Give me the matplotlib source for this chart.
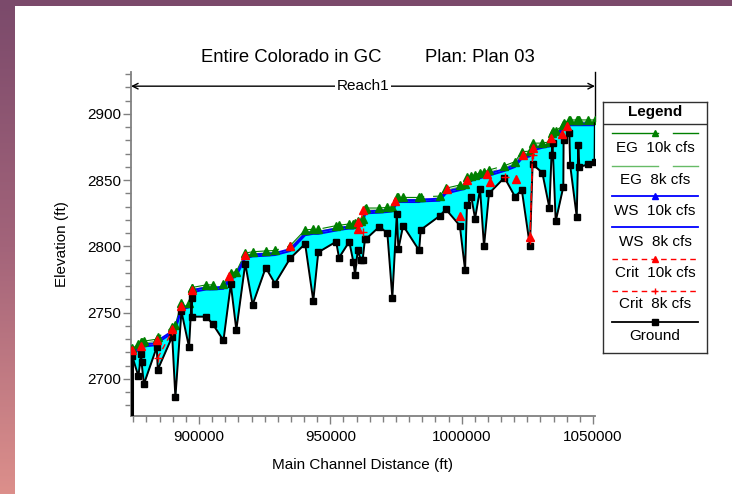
import numpy as np
import matplotlib.pyplot as plt
from matplotlib.ticker import MultipleLocator, FuncFormatter
from matplotlib.patches import Rectangle
from matplotlib.colors import LinearSegmentedColormap

plt.rcParams['font.family'] = ['Liberation Sans', 'DejaVu Sans']

# main channel distance (ft) of the cross sections
station = [874600, 876900, 878000, 878100, 879000, 883900, 884300, 889800, 891000, 893300,
           896200, 897200, 897300, 902700, 905200, 909300, 912100, 914200, 917600, 920400,
           925400, 928900, 934700, 940400, 943500, 945400, 952200, 953300, 957200, 958800,
           959400, 960400, 961600, 962300, 963200, 963500, 968700, 971700, 973600, 975300,
           975900, 977700, 983800, 984400, 991600, 994000, 999300, 1001300, 1002000, 1003700,
           1005100, 1007000, 1008500, 1010400, 1016300, 1020300, 1022900, 1026000, 1027000, 1030700,
           1033400, 1034200, 1034600, 1035800, 1038700, 1038800, 1041000, 1041300, 1043800, 1044400,
           1044800, 1048200, 1050600, 1050700]
ground = [2717, 2702, 2719, 2713, 2696, 2724, 2707, 2732, 2686, 2751,
          2724, 2761, 2747, 2747, 2741.5, 2729, 2771.5, 2737, 2787, 2756,
          2784, 2772, 2791, 2802, 2759, 2795.6, 2803.6, 2791.5, 2803.6, 2788,
          2778.5, 2797, 2790, 2790, 2806, 2805.5, 2815, 2810, 2761.4, 2824.5,
          2798, 2815.7, 2797, 2812.5, 2823, 2828, 2815.7, 2782, 2831, 2837,
          2821, 2843.4, 2800, 2840, 2852, 2837.6, 2842.6, 2800, 2862, 2855.7,
          2829, 2869, 2878, 2819, 2845, 2880, 2885.4, 2861.5, 2822.5, 2876.6,
          2860, 2862, 2864, 2893]
eg_10k = [2723, 2726, 2728, 2728, 2728.5, 2730, 2731.5, 2739, 2741, 2757.5,
          2757.5, 2769, 2769, 2771, 2771, 2771.5, 2780, 2781, 2795, 2796,
          2796.6, 2797, 2800.6, 2812.5, 2813, 2813, 2815.7, 2816, 2817, 2817,
          2817.5, 2819, 2819.5, 2821, 2828, 2829, 2829, 2829.5, 2830, 2837,
          2837, 2837, 2837, 2837.5, 2838, 2844, 2846.4, 2847, 2852.7, 2853,
          2854, 2855.7, 2856, 2857.7, 2861, 2864, 2871.5, 2872, 2878, 2878,
          2879, 2886, 2887, 2887, 2892, 2893, 2895.5, 2895.5, 2895.5, 2895.5,
          2895.5, 2895.5, 2895.5, 2895.5]
ws_10k = [2721, 2723, 2725, 2725.5, 2726, 2727, 2729, 2736, 2738.5, 2754,
          2755.5, 2766, 2767, 2769, 2769, 2769.5, 2777, 2779, 2792.5, 2794,
          2794.5, 2795, 2798, 2810, 2811, 2811, 2813.5, 2814, 2815, 2815,
          2815.5, 2817, 2817.5, 2819, 2825.5, 2826.5, 2827, 2827.5, 2828, 2834,
          2835, 2835, 2835, 2835.5, 2836, 2841.5, 2844, 2845, 2850, 2851,
          2852, 2853, 2854, 2855, 2858.5, 2861.5, 2868, 2869.5, 2874, 2876,
          2877, 2882, 2884, 2885, 2889.5, 2890.5, 2892.5, 2893, 2893, 2893,
          2893, 2893, 2893, 2893]
eg_8k = [2721.5, 2724.5, 2726.5, 2726.5, 2727, 2728.5, 2730, 2737.5, 2739.5, 2756,
         2756, 2767.5, 2767.5, 2769.5, 2769.5, 2770, 2778.5, 2779.5, 2793.5, 2794.5,
         2795, 2795.5, 2799, 2811, 2811.5, 2811.5, 2814, 2814.5, 2815.5, 2815.5,
         2816, 2817.5, 2818, 2819.5, 2826.5, 2827.5, 2827.5, 2828, 2828.5, 2835.5,
         2835.5, 2835.5, 2835.5, 2836, 2836.5, 2842.5, 2845, 2845.5, 2851, 2851.5,
         2852.5, 2854, 2854.5, 2856, 2859.5, 2862.5, 2870, 2870.5, 2876.5, 2876.5,
         2877.5, 2884.5, 2885.5, 2885.5, 2890.5, 2891.5, 2894, 2894, 2894, 2894,
         2894, 2894, 2894, 2894]
ws_8k = [2719.5, 2721.5, 2723.5, 2724, 2724.5, 2725.5, 2727.5, 2734.5, 2737, 2752.5,
         2754, 2764.5, 2765.5, 2767.5, 2767.5, 2768, 2775.5, 2777.5, 2791, 2792.5,
         2793, 2793.5, 2796.5, 2808.5, 2809.5, 2809.5, 2812, 2812.5, 2813.5, 2813.5,
         2814, 2815.5, 2816, 2817.5, 2824, 2825, 2825.5, 2826, 2826.5, 2832.5,
         2833.5, 2833.5, 2833.5, 2834, 2834.5, 2840, 2842.5, 2843.5, 2848.5, 2849.5,
         2850.5, 2851.5, 2852.5, 2853.5, 2857, 2860, 2866.5, 2868, 2872.5, 2874.5,
         2875.5, 2880.5, 2882.5, 2883.5, 2888, 2889, 2891, 2891.5, 2891.5, 2891.5,
         2891.5, 2891.5, 2891.5, 2891.5]

# critical depth elevations, only at the sections where they were computed
crit_10k_x = [874600, 877900, 883900, 889800, 893300, 897200, 911400, 917500, 934700, 960400,
              960700, 962600, 974600, 994600, 999300, 1002000, 1009800, 1010800, 1020600, 1023200,
              1026000, 1027000, 1034000, 1038100, 1040000]
crit_10k = [2722, 2724.5, 2729, 2738, 2755, 2767, 2777.7, 2793.6, 2800.4, 2818.7,
            2813, 2827.5, 2834, 2843, 2823, 2850, 2855, 2849, 2851, 2869,
            2807, 2874, 2881.6, 2885, 2891]
crit_10k_link = [False, False, False, False, False, False, False, False, False, True,
                 True, False, False, False, False, False, True, False, False, False,
                 True, False, False, False, False]
crit_8k_x = [884300, 889800, 962600, 1016500, 1026000, 1027000]
crit_8k = [2716, 2736, 2811, 2852.7, 2805, 2869]
crit_8k_link = [True, False, False, False, True, False]

legend_labels = ['EG  10k cfs', 'EG  8k cfs', 'WS  10k cfs', 'WS  8k cfs',
                 'Crit  10k cfs', 'Crit  8k cfs', 'Ground']
title_left = 'Entire Colorado in GC'
title_right = 'Plan: Plan 03'
reach_name = 'Reach1'

W, H = 732, 494


def box(l, t, r, b):
    return [l / W, 1 - b / H, (r - l) / W, (b - t) / H]


def linked(xs, ys, links):
    # break the line with nan where two sections are not joined
    lx, ly = [], []
    for x, y, k in zip(xs, ys, links):
        lx.append(x)
        ly.append(y)
        if not k:
            lx.append(np.nan)
            ly.append(np.nan)
    return lx, ly


fig = plt.figure(figsize=(W / 100, H / 100), dpi=100)
fig.patch.set_facecolor('white')

# window frame
grad = fig.add_axes(box(0, 0, 15, H))
frame_cmap = LinearSegmentedColormap.from_list('fr', ['#7b4a6b', '#a3647a', '#dc8f8b'])
grad.imshow(np.linspace(0, 1, 200).reshape(-1, 1), aspect='auto', cmap=frame_cmap)
grad.axis('off')
fig.patches.append(Rectangle((0, 1 - 6 / H), 1, 6 / H, transform=fig.transFigure,
                             facecolor='#7b4a6b', edgecolor='none', zorder=5))

ax = fig.add_axes(box(131, 72, 595, 416))
x0, x1 = 874100, 1050760
y0, y1 = 2672, 2931.7
ax.set_xlim(x0, x1)
ax.set_ylim(y0, y1)

ax.fill_between(station, ground, ws_10k, color='#00ffff', lw=0, zorder=1)
ax.plot(station, eg_8k, color='#66bb66', lw=0.8, dashes=(30, 8), zorder=2)
ax.plot(station, eg_10k, color='#008000', lw=0.8, dashes=(30, 8), zorder=2.1)
ax.plot(station, ws_8k, color='#0000ff', lw=1.4, zorder=3)
ax.plot(station, ws_10k, color='#0000ff', lw=1.4, zorder=3.1)
ax.plot(station[:-1], eg_10k[:-1], ls='none', marker='^', ms=5.5, color='#008000', zorder=4)

ax.plot([station[0], station[0]], [ground[0], y0], color='black', lw=2.2, zorder=5)
ax.plot(station, ground, color='black', lw=1.4, zorder=5)
ax.plot(station[:-1], ground[:-1], ls='none', marker='s', ms=5, color='black', zorder=5)

cx, cy = linked(crit_10k_x, crit_10k, crit_10k_link)
ax.plot(cx, cy, color='#ff0000', lw=1, dashes=(4, 3), zorder=6)
ax.plot(crit_10k_x, crit_10k, ls='none', marker='^', ms=6, color='#ff0000', zorder=6)
cx, cy = linked(crit_8k_x, crit_8k, crit_8k_link)
ax.plot(cx, cy, color='#ff0000', lw=1, dashes=(4, 3), zorder=6)
ax.plot(crit_8k_x, crit_8k, ls='none', marker='+', ms=6, mew=1, color='#ff0000', zorder=6)

# reach extent
ax.annotate('', xy=(x0, 2921), xytext=(x1, 2921),
            arrowprops=dict(arrowstyle='<->', lw=1, color='black', shrinkA=0, shrinkB=0))
ax.text((x0 + x1) / 2, 2921, reach_name, ha='center', va='center', fontsize=11,
        bbox=dict(facecolor='white', edgecolor='none', pad=1))
ax.plot([x1, x1], [y1, 2895], color='black', lw=1, clip_on=False)

for s in ['top', 'right']:
    ax.spines[s].set_visible(False)
for s in ['left', 'bottom']:
    ax.spines[s].set_color('#808080')
    ax.spines[s].set_linewidth(1.3)
ax.xaxis.set_major_locator(MultipleLocator(50000))
ax.xaxis.set_minor_locator(MultipleLocator(5000))
ax.yaxis.set_major_locator(MultipleLocator(50))
ax.yaxis.set_minor_locator(MultipleLocator(10))
ax.xaxis.set_major_formatter(FuncFormatter(lambda v, p: f'{v:.0f}'))
ax.yaxis.set_major_formatter(FuncFormatter(lambda v, p: f'{v:.0f}'))
ax.tick_params(which='both', direction='out', color='#808080', labelsize=11)
ax.tick_params(which='major', length=6, width=1)
ax.tick_params(which='minor', length=4, width=1)
ax.tick_params(axis='y', pad=1)
ax.tick_params(axis='x', pad=4)

fig.text(201 / W, 1 - 58 / H, title_left, ha='left', va='center', fontsize=13.3)
fig.text(425 / W, 1 - 58 / H, title_right, ha='left', va='center', fontsize=13.3)
fig.text(363 / W, 1 - 465 / H, 'Main Channel Distance (ft)', ha='center', va='center', fontsize=11)
fig.text(62 / W, 1 - 244 / H, 'Elevation (ft)', ha='center', va='center', fontsize=11, rotation=90)

# legend box
lg = fig.add_axes(box(603, 102, 707, 353))
lg.set_xlim(0, 104)
lg.set_ylim(251, 0)
lg.set_xticks([])
lg.set_yticks([])
for s in lg.spines.values():
    s.set_color('#303030')
    s.set_linewidth(1)
lg.text(52, 10, 'Legend', ha='center', va='center', fontsize=11, weight='bold')
lg.plot([0, 104], [22, 22], color='#303030', lw=1)
rows_line = [31.3, 63.7, 93.7, 125.3, 157, 188.7, 219.7]
rows_text = [46.3, 78, 109, 139.7, 171.3, 202.3, 233.7]
styles = [('#008000', '^', 'eg'), ('#66bb66', None, 'eg'), ('#0000ff', '^', '-'),
          ('#0000ff', None, '-'), ('#ff0000', '^', '--'), ('#ff0000', '+', '--'),
          ('#000000', 's', '-')]
for yl, yt, lab, (c, m, st) in zip(rows_line, rows_text, legend_labels, styles):
    if st == 'eg':
        lg.plot([8.7, 55.3], [yl, yl], color=c, lw=1)
        lg.plot([70.3, 95], [yl, yl], color=c, lw=1)
    elif st == '--':
        lg.plot([8.7, 95], [yl, yl], color=c, lw=1, dashes=(4, 3))
    else:
        lg.plot([8.7, 95], [yl, yl], color=c, lw=1.3)
    if m:
        lg.plot([52], [yl], marker=m, ms=5, mew=1, color=c, ls='none')
    lg.text(52, yt, lab, ha='center', va='center', fontsize=11)

fig.savefig('out.png', dpi=100)
